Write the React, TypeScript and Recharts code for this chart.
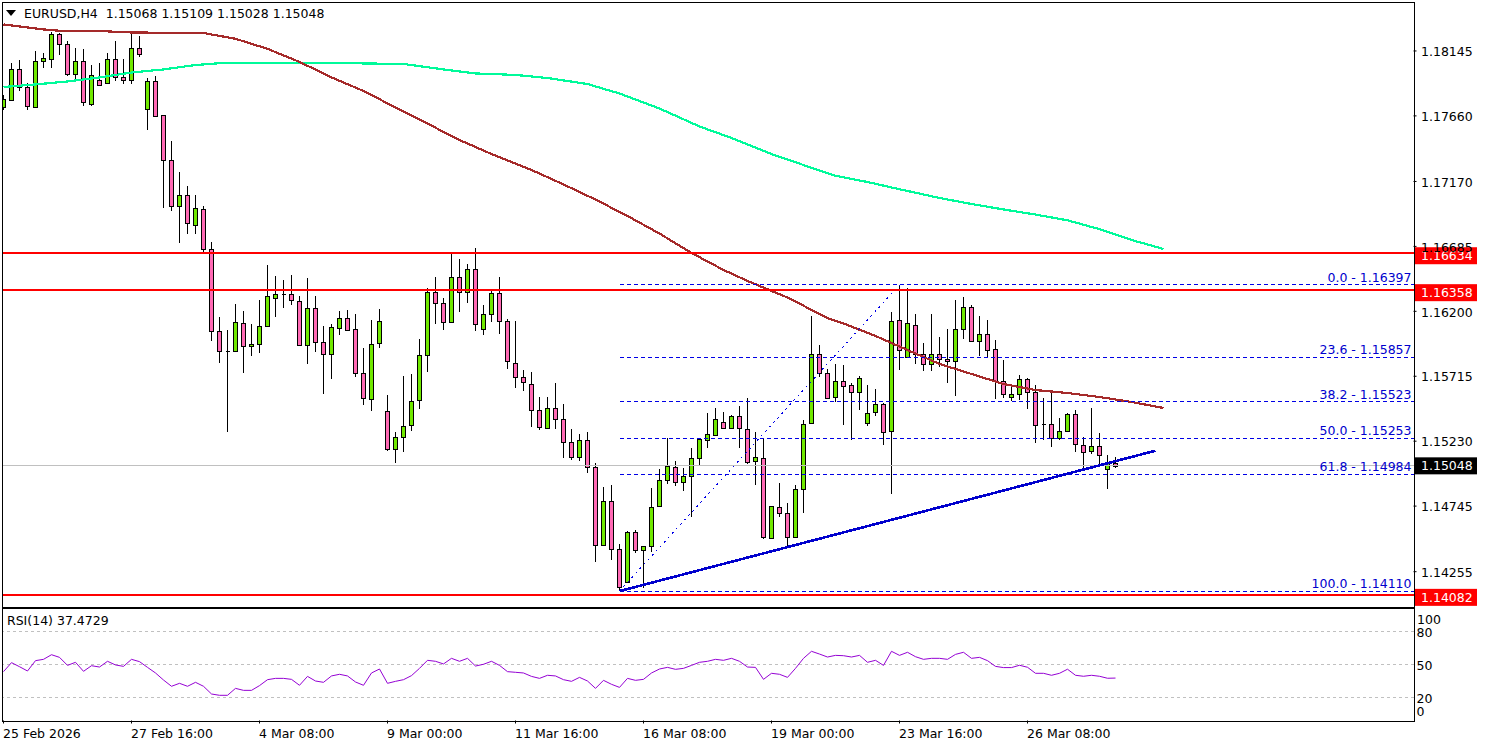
import React from "react";
import { ComposedChart, Bar, Line, XAxis, YAxis, ReferenceLine } from "recharts";

const FONT = '"DejaVu Sans", sans-serif';
const FS = 12.5;

const highs = [
1.17816,1.18053,1.18078,1.17904,1.18145,1.18130,1.18289,1.18279,1.18217,1.18165,
1.18158,1.18040,1.18053,1.18128,1.18217,1.18083,1.18277,1.18257,1.17941,1.17956,
1.17665,1.17470,1.17239,1.17134,1.17067,1.16987,1.16716,1.16155,1.16058,1.16253,
1.16200,1.16103,1.16283,1.16544,1.16462,1.16432,1.16469,1.16312,1.16447,1.16312,
1.16088,1.16103,1.16200,1.16208,1.16178,1.15924,1.16133,1.16215,1.15573,1.15296,
1.15715,1.15730,1.15991,1.16372,1.16454,1.16297,1.16628,1.16591,1.16554,1.16671,
1.16245,1.16350,1.16454,1.16141,1.16126,1.15760,1.15745,1.15558,1.15558,1.15662,
1.15505,1.15319,1.15281,1.15296,1.15065,1.14885,1.14900,1.14459,1.14557,1.14564,
1.14445,1.14878,1.15020,1.15251,1.15080,1.15027,1.15177,1.15244,1.15438,1.15476,
1.15446,1.15423,1.15490,1.15550,1.15296,1.15251,1.14743,1.14915,1.14766,1.14900,
1.15386,1.16163,1.15946,1.15767,1.15804,1.15797,1.15662,1.15715,1.15647,1.15618,
1.15513,1.16193,1.16397,1.16372,1.16178,1.15961,1.16178,1.16006,1.16066,1.16283,
1.16305,1.16245,1.16163,1.16133,1.15984,1.15834,1.15633,1.15722,1.15700,1.15647,
1.15550,1.15588,1.15401,1.15438,1.15461,1.15259,1.15476,1.15289,1.15125,1.15109];

const opens = [
1.17727,1.17777,1.18008,1.17874,1.17729,1.18073,1.18087,1.18270,1.18195,1.17971,
1.18068,1.17751,1.17926,1.17904,1.18083,1.17948,1.17926,1.18165,1.17709,1.17919,
1.17665,1.17328,1.16985,1.17067,1.16843,1.16962,1.16664,1.16051,1.15901,1.15901,
1.16111,1.15939,1.15954,1.16088,1.16297,1.16327,1.16327,1.16275,1.15946,1.16223,
1.15969,1.15879,1.16073,1.16148,1.16066,1.15737,1.15543,1.15961,1.15453,1.15169,
1.15259,1.15349,1.15535,1.15872,1.16342,1.16260,1.16118,1.16454,1.16342,1.16514,
1.16066,1.16178,1.16335,1.16126,1.15812,1.15707,1.15655,1.15461,1.15326,1.15476,
1.15393,1.15222,1.15110,1.15237,1.15035,1.14452,1.14781,1.14422,1.14176,1.14549,
1.14415,1.14445,1.14743,1.14938,1.15035,1.14923,1.14968,1.15102,1.15237,1.15274,
1.15371,1.15326,1.15416,1.15319,1.15080,1.15102,1.14504,1.14736,1.14691,1.14512,
1.14870,1.15364,1.15879,1.15737,1.15558,1.15677,1.15647,1.15595,1.15364,1.15446,
1.15505,1.15304,1.16133,1.15857,1.16096,1.15879,1.15804,1.15879,1.15842,1.15827,
1.16066,1.16230,1.15976,1.16028,1.15916,1.15677,1.15558,1.15580,1.15692,1.15595,
1.15356,1.15356,1.15251,1.15304,1.15431,1.15199,1.15154,1.15192,1.15020,1.15068];

const closes = [
1.17786,1.18008,1.17874,1.17732,1.18068,1.18090,1.18270,1.18195,1.17971,1.18068,
1.17762,1.17963,1.17893,1.18083,1.17948,1.17926,1.18165,1.18120,1.17919,1.17657,
1.17328,1.16985,1.17067,1.16858,1.16970,1.16664,1.16051,1.15901,1.15901,1.16118,
1.15939,1.15954,1.16088,1.16312,1.16327,1.16327,1.16283,1.15946,1.16223,1.15969,
1.15879,1.16081,1.16148,1.16058,1.15737,1.15550,1.15954,1.16126,1.15169,1.15259,
1.15341,1.15528,1.15872,1.16342,1.16260,1.16118,1.16454,1.16342,1.16514,1.16103,
1.16178,1.16335,1.16126,1.15827,1.15707,1.15670,1.15461,1.15334,1.15476,1.15393,
1.15222,1.15110,1.15237,1.15035,1.14452,1.14781,1.14422,1.14138,1.14549,1.14415,
1.14445,1.14736,1.14938,1.15042,1.14923,1.14968,1.15102,1.15244,1.15281,1.15393,
1.15326,1.15416,1.15326,1.15072,1.15110,1.14512,1.14743,1.14691,1.14512,1.14870,
1.15356,1.15879,1.15737,1.15555,1.15677,1.15640,1.15595,1.15700,1.15438,1.15505,
1.15296,1.16126,1.15909,1.16111,1.15879,1.15804,1.15879,1.15842,1.15827,1.16066,
1.16230,1.15976,1.16028,1.15909,1.15677,1.15580,1.15580,1.15692,1.15595,1.15349,
1.15356,1.15251,1.15304,1.15431,1.15207,1.15147,1.15192,1.15125,1.15065,1.15048];

const lows = [
1.17704,1.17775,1.17848,1.17704,1.17721,1.18018,1.18018,1.18115,1.17960,1.17936,
1.17734,1.17734,1.17886,1.17904,1.17923,1.17901,1.17901,1.18102,1.17555,1.17657,
1.16974,1.16952,1.16713,1.16780,1.16778,1.16646,1.15981,1.15816,1.15301,1.15901,
1.15742,1.15869,1.15891,1.16088,1.16160,1.16225,1.16250,1.15939,1.15809,1.15899,
1.15585,1.15697,1.16026,1.16058,1.15712,1.15503,1.15458,1.15928,1.15159,1.15069,
1.15151,1.15308,1.15473,1.15749,1.16108,1.16063,1.16118,1.16197,1.16265,1.16055,
1.16026,1.16123,1.16033,1.15771,1.15630,1.15607,1.15338,1.15316,1.15326,1.15323,
1.15107,1.15092,1.15084,1.14994,1.14330,1.14452,1.14345,1.14108,1.14168,1.14397,
1.14131,1.14404,1.14743,1.14908,1.14893,1.14860,1.14661,1.15042,1.15181,1.15266,
1.15319,1.15319,1.15177,1.15057,1.14905,1.14497,1.14497,1.14666,1.14430,1.14512,
1.14691,1.15356,1.15707,1.15547,1.15520,1.15349,1.15241,1.15465,1.15346,1.15420,
1.15204,1.14838,1.15764,1.15857,1.15809,1.15757,1.15757,1.15786,1.15667,1.15570,
1.15993,1.15976,1.15866,1.15857,1.15547,1.15555,1.15532,1.15540,1.15473,1.15219,
1.15239,1.15189,1.15241,1.15296,1.15151,1.15020,1.15136,1.15057,1.14875,1.15028];

const brownIdx = [0,5,8,12,16,25,29,33,37,41,45,49,53,57,61,66,70,74,78,82,86,90,93,98,103,105,109,113,117,121,125,129,133,137,141,145];
const brownVals = [1.18343,1.18306,1.18291,1.18294,1.18283,1.18279,1.18236,1.18161,1.18063,1.17948,1.17846,1.17723,1.17602,1.17480,1.17375,1.17256,1.17148,1.17035,1.16912,1.16781,1.16636,1.16509,1.16427,1.16303,1.16150,1.16109,1.16016,1.15911,1.15807,1.15732,1.15657,1.15612,1.15590,1.15560,1.15523,1.15478];
const greenIdx = [0,4,8,12,16,20,24,28,37,50,55,59,64,68,73,77,82,87,91,96,100,104,108,112,117,121,125,129,133,137,141,145];
const greenVals = [1.17876,1.17895,1.17917,1.17947,1.17984,1.18007,1.18040,1.18058,1.18058,1.18048,1.18007,1.17977,1.17966,1.17943,1.17898,1.17827,1.17715,1.17581,1.17495,1.17375,1.17293,1.17213,1.17166,1.17112,1.17047,1.17002,1.16961,1.16923,1.16880,1.16814,1.16733,1.16666];

const rsi = [
43.3,51.5,47.8,43.9,53.3,54.5,58.7,56.3,49.0,51.8,43.6,48.7,47.5,52.7,49.4,48.1,54.5,52.4,47.2,42.1,
35.7,30.0,32.7,30.0,33.6,30.0,23.0,21.8,21.8,28.1,26.3,26.3,30.6,36.0,37.2,37.2,36.3,30.9,39.0,34.8,
33.6,39.4,40.9,39.4,33.9,30.9,42.1,45.7,32.7,34.5,36.0,39.7,46.3,53.6,52.7,50.3,55.4,52.7,55.4,48.4,
50.0,52.7,49.0,43.3,42.7,42.1,39.0,37.2,40.0,39.4,36.0,34.5,38.1,34.8,28.1,35.4,31.8,29.0,37.2,35.4,
36.3,42.1,45.7,47.2,45.4,46.3,49.0,51.8,52.7,54.5,53.6,55.4,52.7,47.5,47.2,36.3,41.8,40.9,38.1,46.3,
55.4,61.8,59.3,56.6,58.1,57.8,56.6,58.1,51.8,53.6,49.0,61.8,58.1,60.9,56.9,54.5,55.4,55.4,54.5,59.0,
60.9,55.4,56.3,53.3,48.1,47.0,47.0,49.1,47.3,41.8,41.8,40.0,41.8,45.5,40.0,39.1,40.0,39.1,37.3,37.47];

const priceTicks = [1.18145,1.1766,1.1717,1.16685,1.162,1.15715,1.1523,1.14745,1.14255];
const rsiTicks = [0,20,50,80,100];
const timeTickIdx = [0,16,32,48,64,80,96,112,128];
const timeLabels = ["25 Feb 2026","27 Feb 16:00","4 Mar 08:00","9 Mar 00:00","11 Mar 16:00","16 Mar 08:00","19 Mar 00:00","23 Mar 16:00","26 Mar 08:00"];
const fibLevels = [
  { name: "0.0", price: 1.16397 },
  { name: "23.6", price: 1.15857 },
  { name: "38.2", price: 1.15523 },
  { name: "50.0", price: 1.15253 },
  { name: "61.8", price: 1.14984 },
  { name: "100.0", price: 1.1411 },
];
const redLevels = [1.16634, 1.16358, 1.14082];
const lastPrice = 1.15048;
const fibStartIdx = 77;
const fibTopIdx = 112;
const trendEndIdx = 144;
const trendEndPrice = 1.15159;

const xDomain: [number, number] = [-0.125, 176.25];
const priceDomain: [number, number] = [1.13995, 1.18507];

const total = 146;
const priceRows = Array.from({ length: total }, (_, i) => {
  const row: any = { idx: i };
  if (i < highs.length) {
    row.range = [lows[i], highs[i]];
    row.open = opens[i];
    row.close = closes[i];
  }
  const b = brownIdx.indexOf(i);
  if (b >= 0) row.brown = brownVals[b];
  const g = greenIdx.indexOf(i);
  if (g >= 0) row.green = greenVals[g];
  return row;
});
const rsiRows = rsi.map((v, i) => ({ idx: i, rsi: v }));

const Candle = (p: any) => {
  const { x, y, width, height, payload } = p;
  if (payload.open === undefined || height === undefined) return null;
  const cx = Math.floor(x + width / 2) + 0.5;
  const [lo, hi] = payload.range;
  const yAt = (v: number) => y + ((hi - v) / (hi - lo)) * height;
  const t = Math.round(yAt(Math.max(payload.open, payload.close))) + 0.5;
  const b = Math.round(yAt(Math.min(payload.open, payload.close))) + 0.5;
  const up = payload.close >= payload.open;
  return (
    <g shapeRendering="crispEdges">
      <path d={`M${cx},${y}V${y + height}`} stroke="#000" strokeWidth={1} fill="none" />
      <path d={`M${cx - 2},${t}H${cx + 2}V${b}H${cx - 2}Z`} stroke="#000" strokeWidth={1} fill={up ? "#70E800" : "#FF69B4"} />
    </g>
  );
};

const PriceTick = (p: any) => (
  <text x={1421} y={p.y + 0.7} dy="0.36em" fontFamily={FONT} fontSize={FS} fill="#000">
    {Number(p.payload.value).toFixed(5)}
  </text>
);

const rsiShift: Record<number, number> = { 100: 10, 80: 1, 50: 1, 20: 1, 0: -8 };
const RsiTick = (p: any) => (
  <text x={p.payload.value === 100 ? 1417 : 1416.5} y={p.y + (rsiShift[p.payload.value] || 0)} dy="0.36em" fontFamily={FONT} fontSize={FS} fill="#000">
    {p.payload.value}
  </text>
);

const TimeTick = (p: any) => {
  const i = timeTickIdx.indexOf(p.payload.value);
  return (
    <text x={p.x - 0.5} y={733} dy="0.36em" transform="translate(0,-607)" fontFamily={FONT} fontSize={FS} fill="#000">
      {timeLabels[i]}
    </text>
  );
};

const tag = (text: string, fill: string, dy: number) => (p: any) => {
  const vb = p.viewBox;
  const cy = vb.y + dy;
  return (
    <g>
      <rect x={1415} y={cy - 8.5} width={62} height={17} fill={fill} />
      <text x={1421} y={cy} dy="0.36em" fontFamily={FONT} fontSize={FS} fill="#fff">{text}</text>
    </g>
  );
};

const fibLabel = (text: string) => (p: any) => {
  const vb = p.viewBox;
  return (
    <text x={1411.5} y={vb.y - 7.3} dy="0.36em" textAnchor="end" fontFamily={FONT} fontSize={FS} fill="#0000CD">
      {text}
    </text>
  );
};

export default function App() {
  return (
    <div style={{ position: "absolute", left: 0, top: 0, width: 1485, height: 747, background: "#fff", overflow: "hidden" }}>
      <div style={{ position: "absolute", left: 0, top: 0 }}>
        <ComposedChart width={1485} height={607} data={priceRows} margin={{ top: 2.5, right: 0, bottom: 0.5, left: 2.5 }}>
          <XAxis dataKey="idx" type="number" scale="linear" domain={xDomain} allowDataOverflow hide />
          <YAxis
            orientation="right"
            width={71.5}
            type="number"
            scale="linear"
            domain={priceDomain}
            allowDataOverflow
            ticks={priceTicks}
            interval={0}
            axisLine={false}
            tickLine={{ stroke: "#000" }}
            tickSize={3}
            tick={<PriceTick />}
          />
          <ReferenceLine y={lastPrice} stroke="#C0C0C0" strokeWidth={1} shapeRendering="crispEdges" label={{ content: tag("1.15048", "#000", 0.3) }} />
          <Bar dataKey="range" barSize={5} shape={<Candle />} isAnimationActive={false} />
          <Line dataKey="green" stroke="#00FA9A" strokeWidth={2.2} dot={false} connectNulls shapeRendering="crispEdges" isAnimationActive={false} />
          <Line dataKey="brown" stroke="#A52A2A" strokeWidth={2.2} dot={false} connectNulls shapeRendering="crispEdges" isAnimationActive={false} />
          {fibLevels.map((f) => (
            <ReferenceLine
              key={f.name}
              segment={[{ x: fibStartIdx, y: f.price }, { x: xDomain[1], y: f.price }]}
              stroke="#0000E6"
              strokeWidth={1}
              strokeDasharray="4 3"
              shapeRendering="crispEdges"
              label={{ content: fibLabel(`${f.name} - ${f.price.toFixed(5)}`) }}
            />
          ))}
          <ReferenceLine
            segment={[{ x: fibStartIdx, y: fibLevels[5].price }, { x: fibTopIdx, y: fibLevels[0].price }]}
            stroke="#0000E6"
            strokeWidth={1}
            strokeDasharray="2 4"
            shapeRendering="crispEdges"
          />
          <ReferenceLine
            segment={[{ x: fibStartIdx, y: fibLevels[5].price }, { x: trendEndIdx, y: trendEndPrice }]}
            stroke="#0000CD"
            strokeWidth={2.6}
            shapeRendering="crispEdges"
          />
          {redLevels.map((v) => (
            <ReferenceLine key={v} y={v} stroke="#FF0000" strokeWidth={2} shapeRendering="crispEdges" label={{ content: tag(v.toFixed(5), "#FF0000", 2.5) }} />
          ))}
        </ComposedChart>
      </div>
      <div style={{ position: "absolute", left: 0, top: 607 }}>
        <ComposedChart width={1485} height={140} data={rsiRows} margin={{ top: 1.5, right: 0, bottom: 0, left: 2.5 }}>
          <XAxis
            dataKey="idx"
            type="number"
            scale="linear"
            domain={xDomain}
            allowDataOverflow
            ticks={timeTickIdx}
            interval={0}
            height={26.5}
            axisLine={false}
            tickLine={{ stroke: "#000" }}
            tickSize={3}
            tick={<TimeTick />}
          />
          <YAxis
            orientation="right"
            width={71.5}
            type="number"
            scale="linear"
            domain={[-1.1, 100.7]}
            allowDataOverflow
            ticks={rsiTicks}
            interval={0}
            axisLine={false}
            tickLine={false}
            tick={<RsiTick />}
          />
          {[80, 50, 20].map((v) => (
            <ReferenceLine key={v} y={v} stroke="#C0C0C0" strokeWidth={1} strokeDasharray="3 3" shapeRendering="crispEdges" />
          ))}
          <Line dataKey="rsi" stroke="#9400D3" strokeWidth={1} dot={false} isAnimationActive={false} />
        </ComposedChart>
      </div>
      <div style={{ position: "absolute", left: 2, top: 2, width: 1411, height: 604, border: "1px solid #000", pointerEvents: "none" }} />
      <div style={{ position: "absolute", left: 2, top: 608, width: 1411, height: 112, border: "1px solid #000", pointerEvents: "none" }} />
      <div style={{ position: "absolute", left: 6, top: 10, width: 0, height: 0, borderLeft: "5.5px solid transparent", borderRight: "5.5px solid transparent", borderTop: "6px solid #000" }} />
      <div style={{ position: "absolute", left: 24, top: 6, fontFamily: FONT, fontSize: FS, lineHeight: "16px", whiteSpace: "pre", color: "#000" }}>
        {"EURUSD,H4  1.15068 1.15109 1.15028 1.15048"}
      </div>
      <div style={{ position: "absolute", left: 7, top: 613, fontFamily: FONT, fontSize: FS, lineHeight: "16px", whiteSpace: "pre", color: "#000" }}>
        {"RSI(14) 37.4729"}
      </div>
    </div>
  );
}
